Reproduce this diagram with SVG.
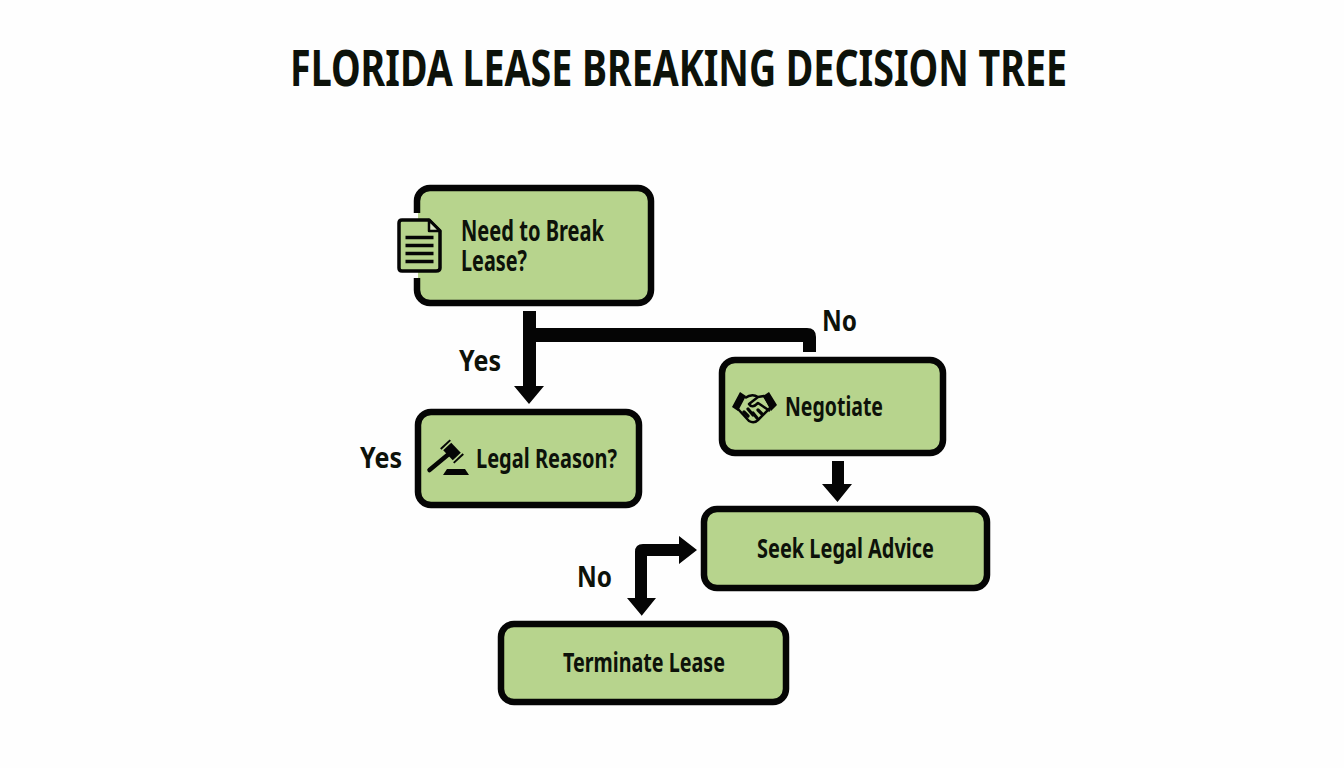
<svg xmlns="http://www.w3.org/2000/svg" width="1344" height="768" viewBox="0 0 1344 768">
<style>
text{font-family:"Noto Sans","Liberation Sans",sans-serif;font-weight:700;fill:#0d120a}
.box{fill:#b7d48d;stroke:#050505;stroke-width:6.5}
.lbl{font-size:28px}
.ink{fill:#050505}
.line{fill:none;stroke:#050505;stroke-linejoin:round}
</style>
<rect width="1344" height="768" fill="#fefefe"/>
<text id="title" x="290" y="86" font-size="50" textLength="777" lengthAdjust="spacingAndGlyphs">FLORIDA LEASE BREAKING DECISION TREE</text>
<g id="connectors">
<path class="ink" d="M523 311H536V328H807Q816 328 816 337V352H803V342H536V386H544L529 404L514 386H523Z"/>
<path class="ink" d="M832 461H844V484H852L837.500 502L822 484H832Z"/>
<path class="ink" d="M647 616H642L627 598H635V552Q635 544 643 544H679V536L697 550L679 564V556H647V598H656L641.500 616Z"/>
</g>
<g id="labels">
<text class="lbl" x="459" y="371" textLength="42" lengthAdjust="spacingAndGlyphs">Yes</text>
<text class="lbl" x="360" y="468" textLength="42" lengthAdjust="spacingAndGlyphs">Yes</text>
<text class="lbl" x="822" y="331" textLength="35" lengthAdjust="spacingAndGlyphs">No</text>
<text class="lbl" x="577" y="587" textLength="35" lengthAdjust="spacingAndGlyphs">No</text>
</g>
<g id="node-need">
<rect class="box" x="417" y="188" width="234" height="115" rx="13"/>
<rect x="412" y="213" width="6" height="65" fill="#fefefe"/>
<rect x="418" y="213" width="4" height="65" fill="#b7d48d"/>
<path d="M402 220H429L440 231V268Q440 271 436 271H402Q399 271 399 268V223Q399 220 402 220Z" fill="#b7d48d" stroke="#050505" stroke-width="3.500" stroke-linejoin="round"/>
<path d="M429 220V231H440Z" fill="#d9e6c2" stroke="#050505" stroke-width="2.500" stroke-linejoin="round"/>
<path class="line" stroke-width="3.500" d="M405.500 237.500H433.500M405.500 245.500H433.500M405.500 253.500H433.500M405.500 261.500H433.500"/>
<text class="lbl"><tspan x="461" y="241" textLength="143" lengthAdjust="spacingAndGlyphs">Need to Break</tspan><tspan x="461" y="271" textLength="66" lengthAdjust="spacingAndGlyphs">Lease?</tspan></text>
</g>
<g id="node-legal">
<rect class="box" x="418" y="412" width="221" height="93" rx="13"/>
<path class="line" stroke-width="4.500" stroke-linecap="round" d="M429.500 470L450 453"/>
<g transform="translate(452 451.500) rotate(47)">
<rect class="ink" x="-7" y="-5.500" width="14" height="11"/>
<rect class="ink" x="-10.500" y="-6.500" width="2" height="13"/>
<rect class="ink" x="8.500" y="-6.500" width="2" height="13"/>
</g>
<path class="ink" d="M447 469H465L469 475H443Z"/>
<text font-size="27" x="476" y="468" textLength="141" lengthAdjust="spacingAndGlyphs">Legal Reason?</text>
</g>
<g id="node-negotiate">
<rect class="box" x="722" y="360" width="221" height="93" rx="13"/>
<path class="ink" d="M740 392L746 396L738 411L732 407ZM769 392L763 396L771 411L777 405Z"/>
<path class="line" stroke-width="2.500" d="M745 398Q752 393 758 397L764 396L771 407L758 420Q754 424 749 421L738 409M758 397L749 404Q752 409 758 403L770 411"/>
<path class="line" stroke-width="3.200" stroke-linecap="round" d="M744 412L748 416M748 409L753 415M753 413L757 418M758 410L762 414"/>
<text font-size="27" x="785" y="416" textLength="98" lengthAdjust="spacingAndGlyphs">Negotiate</text>
</g>
<g id="node-advice">
<rect class="box" x="704" y="509" width="283" height="79" rx="13"/>
<text font-size="27" x="757" y="558" textLength="177" lengthAdjust="spacingAndGlyphs">Seek Legal Advice</text>
</g>
<g id="node-terminate">
<rect class="box" x="501" y="624" width="285" height="78" rx="13"/>
<text font-size="27" x="563" y="672" textLength="162" lengthAdjust="spacingAndGlyphs">Terminate Lease</text>
</g>
</svg>
